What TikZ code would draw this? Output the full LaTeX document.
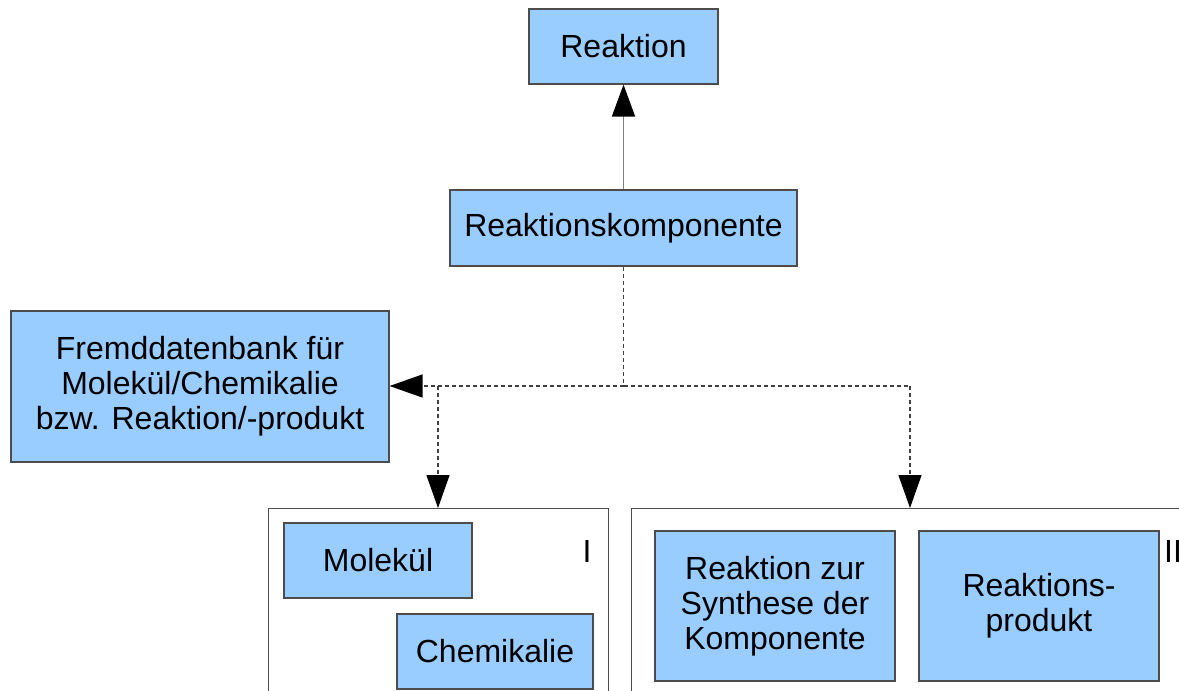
\documentclass[tikz,border=0pt]{standalone}
\usepackage{fontspec}
\setmainfont{Liberation Sans}
\usetikzlibrary{arrows.meta}
\begin{document}
\begin{tikzpicture}[x=1pt,y=-1pt,
  box/.style={draw=black!70, line width=1.1pt, fill=boxblue, inner sep=0pt, align=center,
    font=\fontsize{32}{35}\selectfont},
  cont/.style={draw=black!70, line width=1.1pt, inner sep=0pt},
  lbl/.style={font=\fontsize{32}{35}\selectfont, inner sep=0pt},
  solidcon/.style={draw=black!50, line width=1.5pt, -{Triangle[length=32pt,width=23pt,color=black]}},
  dashcon/.style={draw=black!75, line width=1.3pt, dash pattern=on 4pt off 3pt},
  dasharrow/.style={dashcon, -{Triangle[length=33pt,width=23pt,color=black]}}
]
\definecolor{boxblue}{HTML}{99CCFF}
\useasboundingbox (0,0) rectangle (1179,691);
\clip (0,0) rectangle (1179,691);
\node[box, minimum width=189pt, minimum height=75pt] (reak) at (623.5,46.5) {Reaktion};
\node[box, minimum width=347pt, minimum height=76pt] (komp) at (623.5,228) {Reaktionskomponente};
\node[box, minimum width=378pt, minimum height=151pt] (fremd) at (200,386.5) {Fremddatenbank für\\Molekül/Chemikalie\\bzw. Reaktion/-produkt};
\node[cont, minimum width=340pt, minimum height=240pt, anchor=north west] (contI) at (268,508) {};
\node[cont, minimum width=600pt, minimum height=240pt, anchor=north west] (contII) at (631,508) {};
\node[box, minimum width=188pt, minimum height=75pt] (mol) at (378,560.5) {Molekül};
\node[box, minimum width=196pt, minimum height=75pt] (chem) at (495,651.5) {Chemikalie};
\node[box, minimum width=240pt, minimum height=150pt] (synth) at (775,606) {Reaktion zur\\Synthese der\\Komponente};
\node[box, minimum width=240pt, minimum height=150pt] (prod) at (1039,606) {Reaktions-\\produkt};
\node[lbl] (lI) at (587,551) {I};
\node[lbl, anchor=west] (lII) at (1164,551) {II};
\coordinate (junc) at (623.5,386);
\coordinate (jl) at (438,386);
\coordinate (jr) at (910,386);
\draw[solidcon] (komp.north) -- (reak.south);
\draw[dashcon] (komp.south) -- (junc);
\draw[dasharrow] (junc) -- (fremd.east |- junc);
\draw[dashcon] (junc) -- (jr);
\draw[dasharrow] (jl) -- (jl |- contI.north);
\draw[dasharrow] (jr) -- (jr |- contII.north);
\end{tikzpicture}
\end{document}
